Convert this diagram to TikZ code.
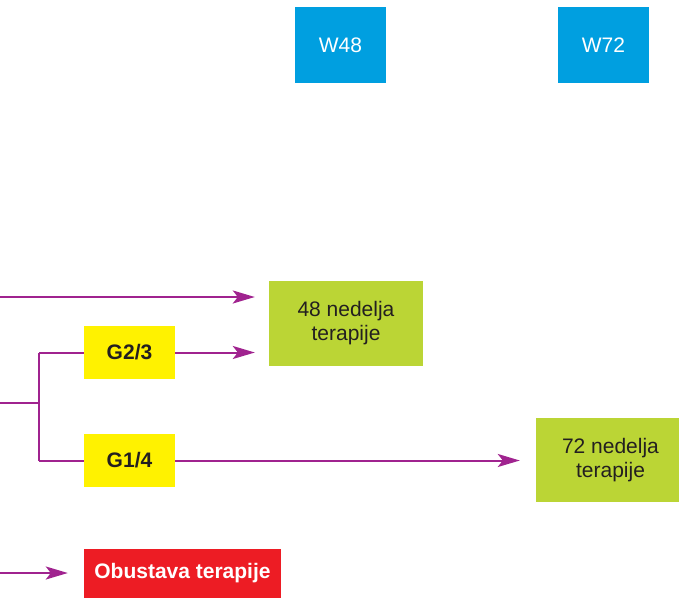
\documentclass[tikz,border=0pt]{standalone}
\usepackage{fontspec}
\setmainfont{Liberation Sans}
\usepackage{xcolor}
\usepackage{tikz}
\usetikzlibrary{arrows.meta,positioning,calc}

\definecolor{wkblue}{HTML}{009FE0}
\definecolor{trgreen}{HTML}{BBD535}
\definecolor{gtyellow}{HTML}{FFF200}
\definecolor{stopred}{HTML}{ED1C24}
\definecolor{flow}{HTML}{A0238F}
\definecolor{ink}{HTML}{231F20}

\begin{document}
\begin{tikzpicture}[
  x=1pt, y=-1pt,
  week/.style={rectangle, fill=wkblue, text=white, font=\fontsize{21}{24}\selectfont, minimum width=91pt, minimum height=76pt, inner sep=0pt},
  therapy/.style={rectangle, fill=trgreen, text=ink, font=\fontsize{21}{24}\selectfont, align=center, inner sep=0pt},
  geno/.style={rectangle, fill=gtyellow, text=ink, font=\fontsize{21}{24}\selectfont\bfseries, minimum width=91pt, minimum height=53pt, inner sep=0pt},
  stopbox/.style={rectangle, fill=stopred, text=white, font=\fontsize{21}{24}\selectfont\bfseries, minimum width=197pt, minimum height=49pt, inner sep=0pt},
  arr/.style={-{Stealth[length=22pt, width=13pt, inset=5pt]}, draw=flow, line width=2pt},
  ln/.style={draw=flow, line width=2pt}
]
  \clip (0,0) rectangle (679,599);

  % week markers
  \node[week] (W48) at (340.5,45) {W48};
  \node[week] (W72) at (603.5,45) {W72};

  % outcomes
  \node[therapy, minimum width=154pt, minimum height=85pt] (T48) at (346,323.5) {48 nedelja\\terapije};
  \node[therapy, minimum width=149pt, minimum height=84pt] (T72) at (610.5,460) {72 nedelja\\terapije};
  \node[geno] (G23) at (129.5,352.5) {G2/3};
  \node[geno] (G14) at (129.5,460.5) {G1/4};
  \node[stopbox] (Stop) at (182.5,573.5) {Obustava terapije};

  % loose ends on the left
  \coordinate (inTop) at (0,297);
  \coordinate (inMid) at (0,403);
  \coordinate (inLow) at (0,573);
  \coordinate (fork) at (39,403);

  \draw[arr, shorten >=14pt] (inTop) -- (inTop -| T48.west);
  \draw[ln] (inMid) -- (fork);
  \draw[ln] (fork |- G23.west) -- (fork |- G14.west);
  \draw[ln] (fork |- G23.west) -- (G23.west);
  \draw[ln] (fork |- G14.west) -- (G14.west);
  \draw[arr, shorten >=14pt] (G23.east) -- (G23.east -| T48.west);
  \draw[arr, shorten >=16pt] (G14.east) -- (G14.east -| T72.west);
  \draw[arr, shorten >=16pt] (inLow) -- (inLow -| Stop.west);
\end{tikzpicture}
\end{document}
